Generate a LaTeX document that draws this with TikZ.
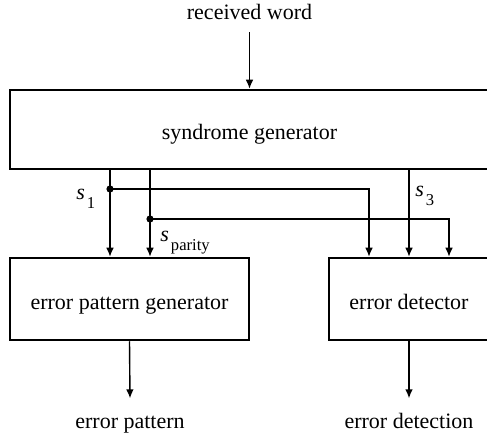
\documentclass[tikz,border=0pt]{standalone}
\usepackage{fontspec}
\setmainfont{Liberation Serif}
\usetikzlibrary{arrows.meta}
\newcommand{\sbit}[1]{\textit{s}\kern1pt\raisebox{-4.3pt}{\fontsize{8.3}{9}\selectfont #1}}

\begin{document}
\begin{tikzpicture}[x=0.5pt,y=-0.5pt,font=\fontsize{11}{13}\selectfont,
    block/.style={draw,line width=1.25pt,inner sep=0pt,text height=10pt,text depth=0pt},
    lbl/.style={anchor=base,text height=8pt,text depth=2.5pt},
    sig/.style={line width=0.7pt},
    arr/.style={sig,-{Latex[length=4.5pt,width=3.8pt]}},
    dot/.style={circle,fill,inner sep=0pt,minimum size=3.6pt}]
    \useasboundingbox (0,0) rectangle (487,438);
    \clip (0,0) rectangle (487,438);

    % blocks (right edges run off the page)
    \node[block,minimum width=239.5pt,minimum height=39.5pt] (syn) at (249.5,129.5) {syndrome generator};
    \node[block,minimum width=119.5pt,minimum height=41pt] (epg) at (129.5,299) {error pattern generator};
    \node[block,minimum width=80pt,minimum height=41pt] (det) at (409,299) {error detector};

    % in and out
    \node[lbl] (rx) at (249.5,20) {received word};
    \node[lbl,outer sep=3.5pt] (ep) at (130,428) {error pattern};
    \node[lbl,outer sep=3.5pt] (ed) at (409,428) {error detection};
    \draw[arr] (rx.south) -- (syn.north);
    \draw[arr] (epg.south) -- (ep.north);
    \draw[arr] (det.south) -- (ed.north);

    % syndrome bits
    \node[dot] (d1) at (110,189) {};
    \node[dot] (d2) at (150,219) {};
    \draw[arr] (syn.south -| d1) -- (epg.north -| d1);
    \draw[arr] (syn.south -| d2) -- (epg.north -| d2);
    \draw[arr] (d1.center) -| ([xshift=-20pt]det.north);
    \draw[arr] (d2.center) -| ([xshift=20pt]det.north);
    \draw[arr] (syn.south -| det.north) -- (det.north);

    \node[anchor=base west,inner sep=0pt] (s1) at (76,200) {\sbit{1}};
    \node[anchor=base west,inner sep=0pt] (sp) at (160,242) {\sbit{parity}};
    \node[anchor=base west,inner sep=0pt] (s3) at (415,197) {\sbit{3}};
\end{tikzpicture}
\end{document}
